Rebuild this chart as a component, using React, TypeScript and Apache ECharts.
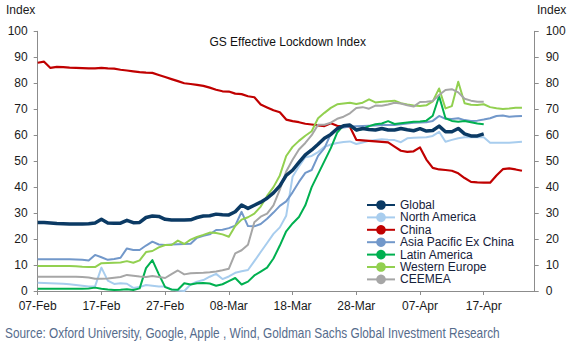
import React, { useEffect, useRef } from "react";
import * as echarts from "echarts";

const FONT = "'Liberation Sans', Arial, sans-serif";

// daily categories from 07-Feb to 25-Apr
const MONTHS = ["Jan", "Feb", "Mar", "Apr", "May"];
const categories: string[] = (() => {
  const out: string[] = [];
  const start = Date.UTC(2020, 1, 7);
  for (let i = 0; i < 79; i++) {
    const d = new Date(start + i * 86400000);
    out.push(String(d.getUTCDate()).padStart(2, "0") + "-" + MONTHS[d.getUTCMonth()]);
  }
  return out;
})();

const tickLabels = ["07-Feb", "17-Feb", "27-Feb", "08-Mar", "18-Mar", "28-Mar", "07-Apr", "17-Apr"];
const yTicks = [0, 10, 20, 30, 40, 50, 60, 70, 80, 90, 100];

const globalIdx = [
  26.4, 26.4, 26.2, 26.0, 25.9, 25.8, 25.8, 25.8, 25.9, 26.2,
  27.6, 26.2, 26.1, 26.1, 27.2, 26.3, 26.4, 28.3, 28.9, 28.7,
  27.6, 27.3, 27.3, 27.3, 27.4, 28.3, 28.9, 29.0, 29.6, 29.4,
  29.3, 30.5, 33.1, 31.8, 33.0, 34.2, 35.7, 37.8, 40.5, 44.5,
  46.5, 49.5, 52.4, 54.3, 56.5, 58.8, 60.3, 62.5, 63.6, 63.9,
  62.0, 62.6, 62.2, 62.0, 62.6, 62.0, 62.0, 62.6, 62.1, 61.7,
  62.5, 61.6, 61.8, 63.5, 61.3, 61.3, 62.6, 60.5, 59.7, 59.7,
  60.5,
];

const northAmerica = [
  3.2, 3.1, 3.0, 2.9, 2.8, 2.6, 2.3, 2.0, 1.7, 1.8,
  9.0, 4.0, 2.7, 3.0, 2.8, 1.2, 1.5, 2.3, 2.0, 1.7,
  1.7, 0.6, 0.2, 0.0, 2.5, 3.6, 4.2, 5.5, 6.6, 4.6,
  5.6, 7.0, 7.6, 8.1, 11.5, 15.0, 18.5, 22.0, 24.5, 29.0,
  44.0, 48.0, 51.5, 52.0, 53.5, 55.5, 56.4, 57.0, 57.4, 57.6,
  56.6, 57.2, 57.8, 58.1, 58.4, 58.2, 58.1, 57.3, 58.8, 59.0,
  59.1, 59.2, 59.7, 61.3, 57.5, 58.2, 58.8, 59.2, 59.2, 59.2,
  59.2, 57.1, 57.1, 57.1, 57.1, 57.3, 57.5,
];

const china = [
  87.9, 88.3, 85.9, 86.3, 86.2, 86.0, 85.9, 85.8, 85.7, 85.7,
  85.9, 85.7, 85.6, 85.2, 84.9, 84.6, 84.3, 84.1, 84.0, 83.2,
  82.4, 81.6, 80.8, 80.0, 79.7, 79.4, 79.0, 78.3, 77.5, 76.9,
  76.8, 76.0, 75.8, 75.0, 74.6, 71.8, 70.7, 69.6, 68.8, 66.0,
  65.4, 65.0, 64.4, 64.1, 63.8, 63.5, 64.6, 63.6, 63.3, 63.2,
  58.2, 58.0, 57.8, 57.6, 57.4, 57.2, 55.6, 54.0, 53.6, 53.8,
  55.3, 50.6, 47.4, 46.8, 46.6, 46.3, 45.3, 43.5, 42.0, 41.8,
  41.7, 41.7, 44.5, 46.9, 47.2, 46.8, 46.3,
];

const asiaPacExChina = [
  12.2, 12.2, 12.2, 12.2, 12.2, 12.2, 12.1, 12.0, 11.7, 13.9,
  13.0, 12.0, 12.3, 12.8, 16.4, 15.8, 15.8, 17.5, 19.0, 17.9,
  17.7, 17.9, 18.0, 18.1, 18.2, 20.5, 21.3, 21.8, 23.5, 23.6,
  24.2, 25.2, 30.5, 25.0, 24.9, 25.8, 27.8, 30.2, 32.8, 34.5,
  38.0, 42.0, 45.5, 46.6, 52.0, 55.0, 60.5, 62.5, 63.0, 63.3,
  63.4, 63.5, 63.6, 63.7, 63.9, 63.9, 63.9, 64.2, 64.5, 64.8,
  64.9, 65.0, 65.5, 67.4, 66.3, 66.2, 66.5, 65.8, 65.5, 65.6,
  66.0, 66.5, 67.4, 67.6, 67.1, 67.3, 67.4,
];

const latinAmerica = [
  0.9, 0.9, 0.9, 0.9, 0.9, 0.9, 0.9, 0.9, 1.0, 1.3,
  0.9, 0.6, 0.4, 0.5, 0.7, 0.4, 1.0, 8.8, 11.9, 6.5,
  1.5, 0.6, 0.5, 3.0, 2.5, 3.0, 3.1, 2.9, 2.0, 2.6,
  3.8, 5.0, 2.5, 3.6, 6.0, 7.5, 9.0, 12.5, 17.5, 23.0,
  26.0, 28.5, 33.0, 40.0, 45.0, 50.0, 55.0, 61.0, 63.8, 63.5,
  61.8, 62.4, 63.5, 64.2, 64.5, 65.4, 64.3, 64.6, 64.9, 65.2,
  65.3, 65.6, 67.5, 75.0, 66.5, 65.5, 65.2, 65.5, 65.0, 64.5,
  64.2,
];

const westernEurope = [
  9.6, 9.6, 9.6, 9.6, 9.6, 9.6, 9.5, 9.3, 9.2, 9.2,
  10.7, 10.8, 10.9, 11.0, 11.5, 10.9, 11.8, 15.0, 15.4, 16.8,
  17.7, 17.7, 19.4, 18.1, 19.8, 20.8, 21.6, 22.5, 22.3, 21.8,
  20.9, 25.0, 27.5, 28.4, 29.8, 32.5, 36.6, 40.0, 44.5, 52.0,
  55.5, 57.8, 59.8, 61.5, 66.5, 68.6, 70.5, 71.9, 72.2, 72.5,
  72.0, 72.5, 73.8, 72.6, 72.9, 73.1, 73.3, 72.3, 71.8, 71.4,
  71.2, 71.5, 73.0, 78.0, 70.3, 71.2, 80.6, 72.3, 71.7, 71.6,
  71.9, 70.8, 70.4, 70.1, 70.3, 70.6, 70.6,
];

const ceemea = [
  5.5, 5.5, 5.5, 5.5, 5.5, 5.5, 5.5, 5.4, 5.2, 4.7,
  4.7, 4.8, 5.1, 5.4, 6.2, 5.9, 5.6, 5.4, 5.8, 5.4,
  5.0, 6.5, 7.9, 6.4, 6.8, 6.9, 7.0, 7.2, 7.5, 8.0,
  8.6, 14.5, 15.7, 17.8, 26.5, 28.6, 29.8, 33.0, 39.0, 46.0,
  50.5, 54.5, 57.0, 60.0, 64.0, 64.0, 64.8, 66.3, 67.1, 68.4,
  70.5, 70.8, 70.2, 71.4, 71.3, 71.8, 72.5, 72.2, 71.5, 71.0,
  72.8, 72.9, 73.2, 75.5, 77.4, 77.7, 76.5, 74.0, 73.3, 72.9,
  72.9,
];

const seriesNames = [
  "Global",
  "North America",
  "China",
  "Asia Pacific Ex China",
  "Latin America",
  "Western Europe",
  "CEEMEA",
];
const seriesData = [globalIdx, northAmerica, china, asiaPacExChina, latinAmerica, westernEurope, ceemea];
const seriesColors = ["#0B3A64", "#A8CDEE", "#C00000", "#7298CA", "#00B050", "#92D050", "#A6A6A6"];
const seriesWidths = [3.5, 2, 2.2, 2, 2, 2, 2];

const sourceText =
  "Source: Oxford University, Google, Apple , Wind, Goldman Sachs Global Investment Research";

export default function App() {
  const ref = useRef<HTMLDivElement>(null);
  useEffect(() => {
    if (!ref.current) return;
    const chart = echarts.init(ref.current, undefined, { renderer: "svg" });
    const axisLine = { show: true, lineStyle: { color: "#8C8C8C", width: 1 } };
    const yAxisCommon = {
      type: "value" as const,
      min: 0,
      max: 100,
      interval: 10,
      splitLine: { show: false },
      axisLine,
      axisTick: { show: true, length: 4, lineStyle: { color: "#8C8C8C" } },
    };
    chart.setOption({
      animation: false,
      backgroundColor: "#ffffff",
      textStyle: { fontFamily: FONT },
      grid: { left: 37.7, right: 39.3, top: 31.3, bottom: 52, containLabel: false },
      legend: {
        data: seriesNames,
        orient: "vertical",
        left: 366,
        top: 199,
        itemWidth: 28,
        itemHeight: 12,
        itemGap: 0.4,
        padding: 0,
        textStyle: { fontSize: 12, fontFamily: FONT, color: "#16213A", lineHeight: 12 },
      },
      xAxis: {
        type: "category",
        data: categories,
        boundaryGap: false,
        axisLine,
        axisTick: { show: true, length: 4, interval: 9, lineStyle: { color: "#8C8C8C" } },
        axisLabel: {
          interval: 9,
          margin: 9,
          fontSize: 12,
          fontFamily: FONT,
          color: "#1a1a1a",
          formatter: (v: string, i: number) => (i % 10 === 0 ? tickLabels[i / 10] ?? v : v),
        },
        splitLine: { show: false },
      },
      yAxis: [
        {
          ...yAxisCommon,
          position: "left",
          axisLabel: {
            margin: 10,
            fontSize: 12,
            fontFamily: FONT,
            color: "#1a1a1a",
            formatter: (v: number) => String(yTicks[Math.round(v / 10)] ?? v),
          },
        },
        {
          ...yAxisCommon,
          position: "right",
          axisLabel: {
            margin: 11,
            fontSize: 12,
            fontFamily: FONT,
            color: "#1a1a1a",
            formatter: (v: number) => String(yTicks[Math.round(v / 10)] ?? v),
          },
        },
      ],
      graphic: [
        {
          type: "text",
          left: 6,
          top: 4,
          style: { text: "Index", fontSize: 12, fontFamily: FONT, fill: "#1a1a1a" },
        },
        {
          type: "text",
          left: 537,
          top: 4,
          style: { text: "Index", fontSize: 12, fontFamily: FONT, fill: "#1a1a1a" },
        },
        {
          type: "text",
          x: 287.7,
          y: 42,
          style: {
            text: "GS Effective Lockdown Index",
            fontSize: 12,
            fontFamily: FONT,
            fill: "#111111",
            align: "center",
            verticalAlign: "middle",
          },
        },
        {
          type: "text",
          x: 5,
          y: 333,
          scaleX: 0.845,
          style: {
            text: sourceText,
            fontSize: 14,
            fontFamily: FONT,
            fill: "#566C8C",
            verticalAlign: "middle",
          },
        },
      ],
      series: seriesNames.map((name, k) => ({
        name,
        type: "line",
        data: seriesData[k],
        yAxisIndex: 0,
        symbol: "none",
        showSymbol: false,
        smooth: false,
        lineStyle: { color: seriesColors[k], width: seriesWidths[k], join: "round" },
        itemStyle: { color: seriesColors[k] },
        z: k === 0 ? 3 : 2,
      })),
    });
    return () => chart.dispose();
  }, []);
  return (
    <div
      ref={ref}
      style={{ position: "fixed", left: 0, top: 0, width: 574, height: 343, background: "#fff" }}
    />
  );
}
